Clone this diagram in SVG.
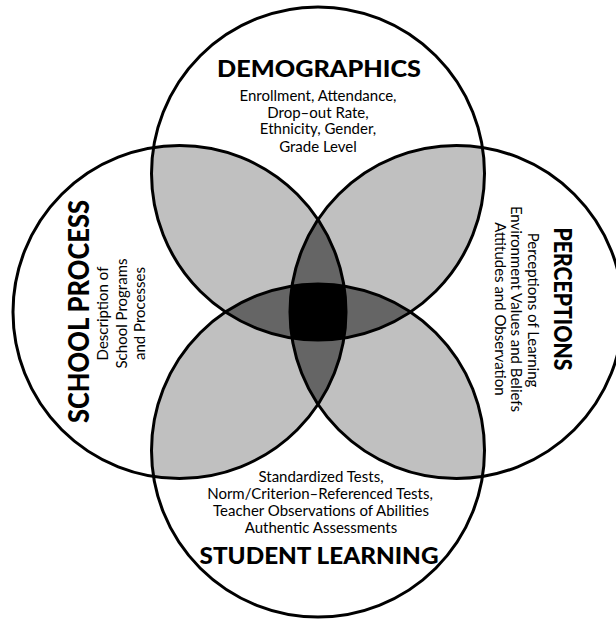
<svg xmlns="http://www.w3.org/2000/svg" width="616" height="619" viewBox="0 0 616 619">
<style>
.ring{fill:none;stroke:#000;stroke-width:3}
.light{fill:#c0c0c0}
.dark{fill:#656565}
.core{fill:#000}
.title{font-family:Lato,"Liberation Sans",sans-serif;font-weight:900;fill:#000;text-anchor:middle}
.sub{font-family:Lato,"Liberation Sans",sans-serif;font-size:15px;fill:#000;text-anchor:middle}
</style>
<defs>
<clipPath id="cT"><circle cx="318" cy="173.5" r="166.5"/></clipPath>
<clipPath id="cB"><circle cx="318" cy="450.5" r="166.5"/></clipPath>
<clipPath id="cL"><circle cx="179.5" cy="312" r="166.5"/></clipPath>
<clipPath id="cR"><circle cx="456.5" cy="312" r="166.5"/></clipPath>
</defs>
<rect width="616" height="619" fill="#fff"/>
<g id="overlaps">
<circle class="light" cx="179.5" cy="312" r="166.5" clip-path="url(#cT)"/>
<circle class="light" cx="456.5" cy="312" r="166.5" clip-path="url(#cT)"/>
<circle class="light" cx="179.5" cy="312" r="166.5" clip-path="url(#cB)"/>
<circle class="light" cx="456.5" cy="312" r="166.5" clip-path="url(#cB)"/>
<circle class="dark" cx="318" cy="450.5" r="166.5" clip-path="url(#cT)"/>
<circle class="dark" cx="456.5" cy="312" r="166.5" clip-path="url(#cL)"/>
<g clip-path="url(#cT)"><g clip-path="url(#cB)"><circle class="core" cx="179.5" cy="312" r="166.5" clip-path="url(#cR)"/></g></g>
</g>
<g id="connectors"/>
<g id="demographics">
<circle class="ring" cx="318" cy="173.5" r="166.5"/>
<text class="title" x="319" y="77" font-size="22" textLength="204" lengthAdjust="spacingAndGlyphs">DEMOGRAPHICS</text>
<text class="sub" x="318" y="100.7">Enrollment, Attendance,</text>
<text class="sub" x="318" y="117.5">Drop–out Rate,</text>
<text class="sub" x="318" y="134.3">Ethnicity, Gender,</text>
<text class="sub" x="318" y="151.7">Grade Level</text>
</g>
<g id="school-process">
<circle class="ring" cx="179.5" cy="312" r="166.5"/>
<g transform="translate(89 311.5) rotate(-90)">
<text class="title" x="0" y="0" font-size="28" textLength="223" lengthAdjust="spacingAndGlyphs">SCHOOL PROCESS</text>
<text class="sub" x="-2" y="19.3">Description of</text>
<text class="sub" x="-2" y="37.8">School Programs</text>
<text class="sub" x="-2" y="56">and Processes</text>
</g>
</g>
<g id="perceptions">
<circle class="ring" cx="456.5" cy="312" r="166.5"/>
<g transform="translate(553.5 299) rotate(90)">
<text class="title" x="0" y="0" font-size="24" textLength="143" lengthAdjust="spacingAndGlyphs">PERCEPTIONS</text>
<text class="sub" x="11" y="26">Perceptions of Learning</text>
<text class="sub" x="10" y="42.5">Environment Values and Beliefs</text>
<text class="sub" x="10" y="59">Attitudes and Observation</text>
</g>
</g>
<g id="student-learning">
<circle class="ring" cx="318" cy="450.5" r="166.5"/>
<text class="sub" x="321" y="482.3">Standardized Tests,</text>
<text class="sub" x="320" y="499.2">Norm/Criterion–Referenced Tests,</text>
<text class="sub" x="321" y="516">Teacher Observations of Abilities</text>
<text class="sub" x="321" y="532.5">Authentic Assessments</text>
<text class="title" x="319" y="564" font-size="23" textLength="239" lengthAdjust="spacingAndGlyphs">STUDENT LEARNING</text>
</g>
</svg>
